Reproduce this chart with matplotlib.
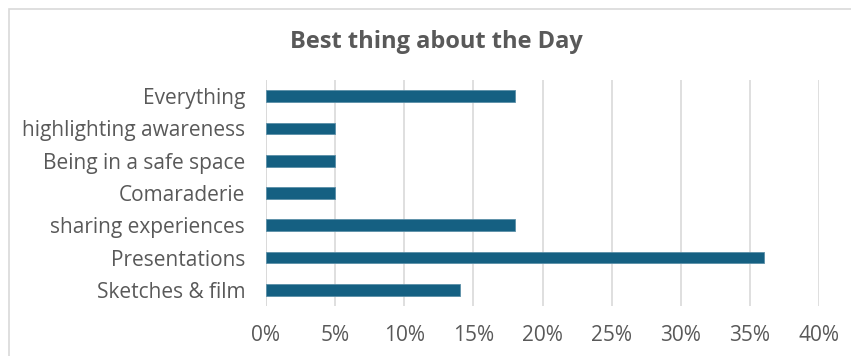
import matplotlib.pyplot as plt
from matplotlib.patches import Rectangle
from matplotlib.ticker import FuncFormatter

# survey answers, listed bottom to top
categories = ['Sketches & film', 'Presentations', 'sharing experiences', 'Comaraderie',
              'Being in a safe space', 'highlighting awareness', 'Everything']
shares = [14, 36, 18, 5, 5, 5, 18]
x_ticks = [0, 5, 10, 15, 20, 25, 30, 35, 40]

TEXT = '#595959'
BAR = '#156082'
plt.rcParams['font.family'] = ['Open Sans', 'DejaVu Sans']

fig = plt.figure(figsize=(8.51, 3.56), dpi=100)
ax = fig.add_axes([266 / 851, 1 - 306 / 356, 553 / 851, 226 / 356])

# chart frame, runs off the right and bottom edges
fig.patches.append(Rectangle((9 / 851, -0.05), 1.0, 1 - 9 / 356 + 0.05,
                             transform=fig.transFigure, fill=False,
                             edgecolor='#d9d9d9', linewidth=1.2))

ax.barh(range(len(categories)), shares, height=0.36, color=BAR,
        edgecolor='#5b8fa8', linewidth=0.6, zorder=3)

ax.set_xlim(0, 40)
ax.set_ylim(-0.5, len(categories) - 0.5)
ax.set_xticks(x_ticks)
ax.xaxis.set_major_formatter(FuncFormatter(lambda v, _: f'{v:.0f}%'))
ax.set_yticks(range(len(categories)))
ax.set_yticklabels(categories)
ax.grid(axis='x', color='#d9d9d9', linewidth=1.2, zorder=0)
ax.axvline(0, color='#d9d9d9', linewidth=1.2, zorder=1)

for side in ax.spines.values():
    side.set_visible(False)
ax.tick_params(axis='both', length=0, labelsize=15, labelcolor=TEXT)
ax.tick_params(axis='x', pad=14)
ax.tick_params(axis='y', pad=15)

fig.text(436 / 851, 1 - 42 / 356, 'Best thing about the Day', ha='center', va='center',
         fontsize=17, fontweight='bold', color=TEXT)

fig.savefig('out.png', dpi=100, facecolor='white')
